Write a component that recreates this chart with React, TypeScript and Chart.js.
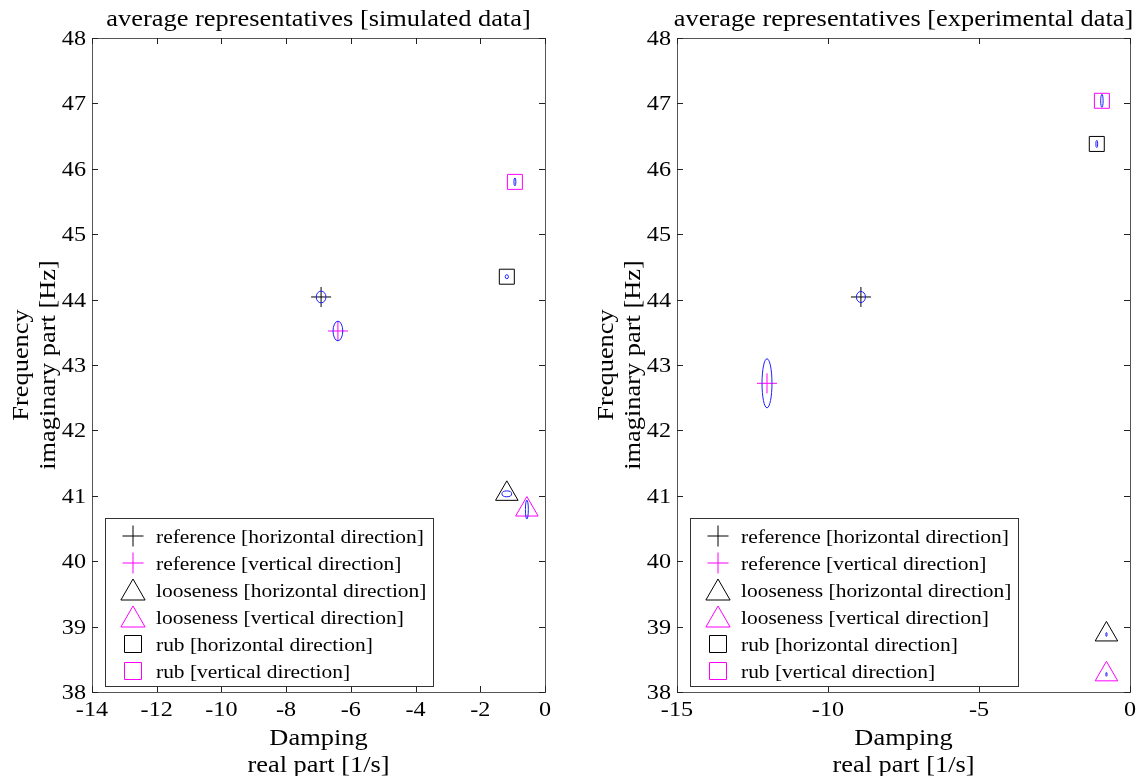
import React, { useEffect, useRef } from 'react';
import { Chart, registerables } from 'chart.js';

Chart.register(...registerables);

// ---------- data ----------
const seriesLabels = [
  'reference [horizontal direction]',
  'reference [vertical direction]',
  'looseness [horizontal direction]',
  'looseness [vertical direction]',
  'rub [horizontal direction]',
  'rub [vertical direction]',
];
const seriesColors = ['#000000', '#ff00ff', '#000000', '#ff00ff', '#000000', '#ff00ff'];
const seriesStyles = ['cross', 'cross', 'triangle', 'triangle', 'rect', 'rect'];

const yTicks = [38, 39, 40, 41, 42, 43, 44, 45, 46, 47, 48];
const simXTicks = [-14, -12, -10, -8, -6, -4, -2, 0];
const expXTicks = [-15, -10, -5, 0];

// simulated data: average representatives (damping, frequency)
const simX = [-6.92, -6.4, -1.18, -0.56, -1.18, -0.93];
const simY = [44.04, 43.52, 41.03, 40.79, 44.35, 45.8];
// spread ellipse half-axes (data units)
const simRx = [0.15, 0.15, 0.15, 0.045, 0.05, 0.03];
const simRy = [0.09, 0.15, 0.045, 0.145, 0.03, 0.06];

// experimental data
const expX = [-8.91, -12.02, -0.78, -0.78, -1.1, -0.93];
const expY = [44.04, 42.72, 38.88, 38.27, 46.38, 47.04];
const expRx = [0.15, 0.165, 0.02, 0.02, 0.03, 0.04];
const expRy = [0.085, 0.375, 0.03, 0.03, 0.055, 0.1];

// ---------- styling ----------
const FONT = '"Liberation Serif", "Times New Roman", serif';
const SX = 1.1;
const POINT_RADIUS: Record<string, number> = { cross: 10, triangle: 13, rect: 10.6 };

function drawText(
  ctx: CanvasRenderingContext2D,
  s: string,
  x: number,
  y: number,
  size: number,
  align: CanvasTextAlign,
  rot = 0,
  sx = SX
) {
  ctx.save();
  ctx.translate(x, y);
  if (rot) ctx.rotate(rot);
  ctx.scale(sx, 1);
  ctx.font = `${size}px ${FONT}`;
  ctx.fillStyle = '#000';
  ctx.textAlign = align;
  ctx.textBaseline = 'alphabetic';
  ctx.fillText(s, 0, 0);
  ctx.restore();
}

function drawMarker(ctx: CanvasRenderingContext2D, style: string, x: number, y: number, r: number, color: string) {
  ctx.save();
  ctx.strokeStyle = color;
  ctx.lineWidth = 1;
  ctx.beginPath();
  if (style === 'cross') {
    ctx.moveTo(x - r, y);
    ctx.lineTo(x + r, y);
    ctx.moveTo(x, y - r);
    ctx.lineTo(x, y + r);
  } else if (style === 'triangle') {
    ctx.moveTo(x, y - r);
    ctx.lineTo(x + r * Math.sin((2 * Math.PI) / 3), y - r * Math.cos((2 * Math.PI) / 3));
    ctx.lineTo(x + r * Math.sin((4 * Math.PI) / 3), y - r * Math.cos((4 * Math.PI) / 3));
    ctx.closePath();
  } else {
    ctx.rect(x - r, y - r, 2 * r, 2 * r);
  }
  ctx.stroke();
  ctx.restore();
}

type Cfg = {
  title: string;
  xs: number[];
  ys: number[];
  rx: number[];
  ry: number[];
  xTicks: number[];
  xMin: number;
  xMax: number;
  padLeft: number;
  padRight: number;
};

function makePlugin(cfg: Cfg) {
  return {
    id: 'matlabLook',
    afterDatasetsDraw(chart: any) {
      const ctx: CanvasRenderingContext2D = chart.ctx;
      const xs = chart.scales.x;
      const ys = chart.scales.y;
      ctx.save();
      ctx.strokeStyle = '#1f1fff';
      ctx.lineWidth = 1;
      for (let i = 0; i < cfg.xs.length; i++) {
        const cx = xs.getPixelForValue(cfg.xs[i]);
        const cy = ys.getPixelForValue(cfg.ys[i]);
        const rxp = Math.max(0.6, Math.abs(xs.getPixelForValue(cfg.xs[i] + cfg.rx[i]) - cx));
        const ryp = Math.max(0.6, Math.abs(ys.getPixelForValue(cfg.ys[i] + cfg.ry[i]) - cy));
        ctx.beginPath();
        ctx.ellipse(cx, cy, rxp, ryp, 0, 0, Math.PI * 2);
        ctx.stroke();
      }
      ctx.restore();
    },
    afterDraw(chart: any) {
      const ctx: CanvasRenderingContext2D = chart.ctx;
      const a = chart.chartArea;
      const xs = chart.scales.x;
      const ys = chart.scales.y;
      const TL = 6;
      ctx.save();
      // frame
      ctx.strokeStyle = '#555';
      ctx.lineWidth = 1;
      ctx.strokeRect(Math.round(a.left) + 0.5, Math.round(a.top) + 0.5, Math.round(a.right - a.left), Math.round(a.bottom - a.top));
      // ticks
      ctx.strokeStyle = '#222';
      ctx.beginPath();
      for (const t of cfg.xTicks) {
        const px = Math.round(xs.getPixelForValue(t)) + 0.5;
        ctx.moveTo(px, a.bottom);
        ctx.lineTo(px, a.bottom - TL);
        ctx.moveTo(px, a.top);
        ctx.lineTo(px, a.top + TL);
      }
      for (const t of yTicks) {
        const py = Math.round(ys.getPixelForValue(t)) + 0.5;
        ctx.moveTo(a.left, py);
        ctx.lineTo(a.left + TL, py);
        ctx.moveTo(a.right, py);
        ctx.lineTo(a.right - TL, py);
      }
      ctx.stroke();
      ctx.restore();

      // tick labels
      for (const t of cfg.xTicks) {
        drawText(ctx, String(t), xs.getPixelForValue(t), a.bottom + 24, 22, 'center');
      }
      for (const t of yTicks) {
        drawText(ctx, String(t), a.left - 6, ys.getPixelForValue(t) + 7, 22, 'right');
      }
      // axis titles
      const cx = (a.left + a.right) / 2;
      const cy = (a.top + a.bottom) / 2;
      drawText(ctx, 'Damping', cx, a.bottom + 53, 24, 'center');
      drawText(ctx, 'real part [1/s]', cx, a.bottom + 80, 24, 'center');
      drawText(ctx, 'Frequency', a.left - 64, cy, 24, 'center', -Math.PI / 2);
      drawText(ctx, 'imaginary part [Hz]', a.left - 37, cy, 24, 'center', -Math.PI / 2);
      // chart title
      drawText(ctx, cfg.title, cx, a.top - 12, 24, 'center');

      // legend
      const lx = a.left + 13;
      const lw = 328;
      const lh = 168;
      const ly = a.bottom - 6 - lh;
      ctx.save();
      ctx.fillStyle = '#fff';
      ctx.fillRect(lx, ly, lw, lh);
      ctx.strokeStyle = '#333';
      ctx.lineWidth = 1;
      ctx.strokeRect(Math.round(lx) + 0.5, Math.round(ly) + 0.5, lw, lh);
      ctx.restore();
      for (let i = 0; i < seriesLabels.length; i++) {
        const rowY = ly + 18 + 27 * i;
        const st = seriesStyles[i];
        const mr = st === 'cross' ? 10.5 : st === 'triangle' ? 14 : 8.5;
        drawMarker(ctx, st, lx + 28, rowY + (st === 'triangle' ? 3 : 0), mr, seriesColors[i]);
        drawText(ctx, seriesLabels[i], lx + 51, rowY + 7, 19.5, 'left');
      }
    },
  };
}

function Plot({ cfg, left }: { cfg: Cfg; left: number }) {
  const ref = useRef<HTMLCanvasElement | null>(null);
  useEffect(() => {
    if (!ref.current) return;
    const datasets = seriesLabels.map((label, i) => ({
      label,
      data: [{ x: cfg.xs[i], y: cfg.ys[i] }],
      pointStyle: seriesStyles[i] as any,
      pointRadius: POINT_RADIUS[seriesStyles[i]],
      pointHoverRadius: POINT_RADIUS[seriesStyles[i]],
      borderColor: seriesColors[i],
      backgroundColor: 'rgba(0,0,0,0)',
      pointBorderWidth: 1,
      showLine: false,
      clip: false as any,
    }));
    const chart = new Chart(ref.current, {
      type: 'scatter',
      data: { datasets },
      options: {
        animation: false,
        responsive: false,
        devicePixelRatio: 1,
        events: [],
        layout: { padding: { left: cfg.padLeft, right: cfg.padRight, top: 38, bottom: 84 } },
        scales: {
          x: { type: 'linear', min: cfg.xMin, max: cfg.xMax, display: false },
          y: { type: 'linear', min: 38, max: 48, display: false },
        },
        plugins: {
          legend: { display: false },
          tooltip: { enabled: false },
          title: { display: false },
        },
      },
      plugins: [makePlugin(cfg)],
    });
    return () => chart.destroy();
  }, []);
  return (
    <canvas
      ref={ref}
      width={572}
      height={776}
      style={{ position: 'absolute', left, top: 0, width: 572, height: 776 }}
    />
  );
}

const simCfg: Cfg = {
  title: 'average representatives [simulated data]',
  xs: simX,
  ys: simY,
  rx: simRx,
  ry: simRy,
  xTicks: simXTicks,
  xMin: -14,
  xMax: 0,
  padLeft: 92,
  padRight: 27,
};

const expCfg: Cfg = {
  title: 'average representatives [experimental data]',
  xs: expX,
  ys: expY,
  rx: expRx,
  ry: expRy,
  xTicks: expXTicks,
  xMin: -15,
  xMax: 0,
  padLeft: 105,
  padRight: 14,
};

export default function App() {
  return (
    <div style={{ position: 'fixed', left: 0, top: 0, width: 1144, height: 776, background: '#fff', overflow: 'hidden' }}>
      <Plot cfg={simCfg} left={0} />
      <Plot cfg={expCfg} left={572} />
    </div>
  );
}
